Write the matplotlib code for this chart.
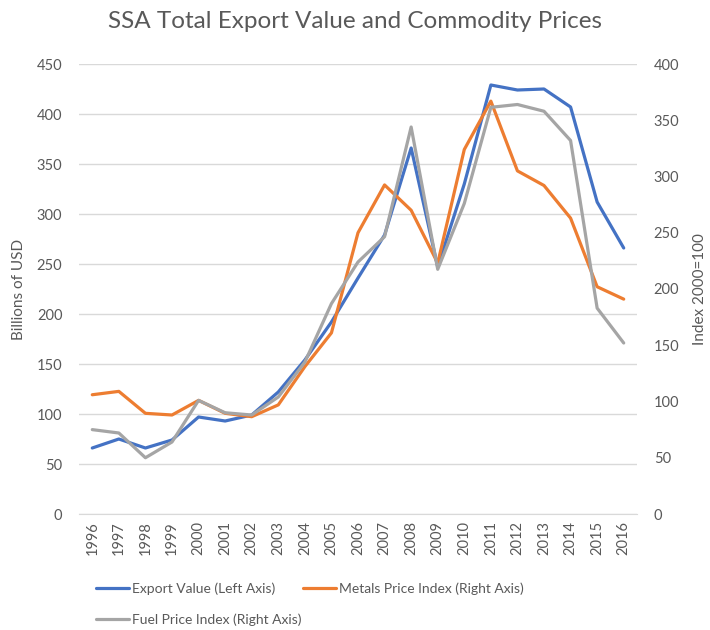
import matplotlib.pyplot as plt

YEARS = list(range(1996, 2017))
EXPORT_VALUE = [66, 75, 66, 74, 97, 93, 99, 122, 154, 192, 236, 279,
                366, 247, 330, 429, 424, 425, 407, 312, 266]
METALS_INDEX = [106, 109, 89.5, 88, 101, 89.5, 86.5, 97, 131, 161, 250, 292.5,
                270, 223, 324, 367, 305, 292, 263, 202, 191]
FUEL_INDEX = [75, 72, 50, 64, 101, 90, 88, 104, 135, 187, 224, 246.5,
              344, 217.5, 276, 361.5, 364, 358, 332, 183, 152]

BLUE = "#4472C4"
ORANGE = "#ED7D31"
GRAY = "#A5A5A5"
TEXT = "#595959"
GRID = "#D9D9D9"

plt.rcParams["font.family"] = ["Lato", "DejaVu Sans"]

fig = plt.figure(figsize=(7.1, 6.3), dpi=100)
ax = fig.add_axes([79 / 710, 1 - 514 / 630, 558 / 710, 450 / 630])
ax2 = ax.twinx()

line_exp, = ax.plot(YEARS, EXPORT_VALUE, color=BLUE, lw=2.3, solid_capstyle="round")
line_met, = ax2.plot(YEARS, METALS_INDEX, color=ORANGE, lw=2.3, solid_capstyle="round")
line_fuel, = ax2.plot(YEARS, FUEL_INDEX, color=GRAY, lw=2.3, solid_capstyle="round")

ax.set_xlim(1995.5, 2016.5)
ax.set_ylim(0, 450)
ax.set_yticks(range(0, 451, 50))
ax2.set_ylim(0, 400)
ax2.set_yticks(range(0, 401, 50))
ax.set_xticks(YEARS)
ax.set_xticklabels([str(y) for y in YEARS], rotation=90)

ax.grid(axis="y", color=GRID, lw=1)
ax.set_axisbelow(True)
for a in (ax, ax2):
    for side in ("top", "left", "right", "bottom"):
        a.spines[side].set_visible(False)
    a.tick_params(length=0, colors=TEXT, labelsize=10.5)
ax.spines["bottom"].set_visible(True)
ax.spines["bottom"].set_color(GRID)
ax.tick_params(axis="y", pad=12)
ax2.tick_params(axis="y", pad=12)
ax.tick_params(axis="x", pad=5)

ax.set_ylabel("Billions of USD", color=TEXT, fontsize=11, labelpad=8)
ax2.set_ylabel("Index 2000=100", color=TEXT, fontsize=11, labelpad=10)

fig.suptitle("SSA Total Export Value and Commodity Prices", color=TEXT, fontsize=17.5, y=0.982)

fig.legend([line_exp, line_fuel, line_met],
           ["Export Value (Left Axis)", "Fuel Price Index (Right Axis)", "Metals Price Index (Right Axis)"],
           ncol=2, loc="upper left", bbox_to_anchor=(96 / 710, 1 - 582 / 630),
           frameon=False, fontsize=10, labelcolor=TEXT, handlelength=2.4,
           handletextpad=0.2, columnspacing=0.1, labelspacing=1.35, borderaxespad=0,
           borderpad=0)

fig.savefig("out.png", dpi=100)
